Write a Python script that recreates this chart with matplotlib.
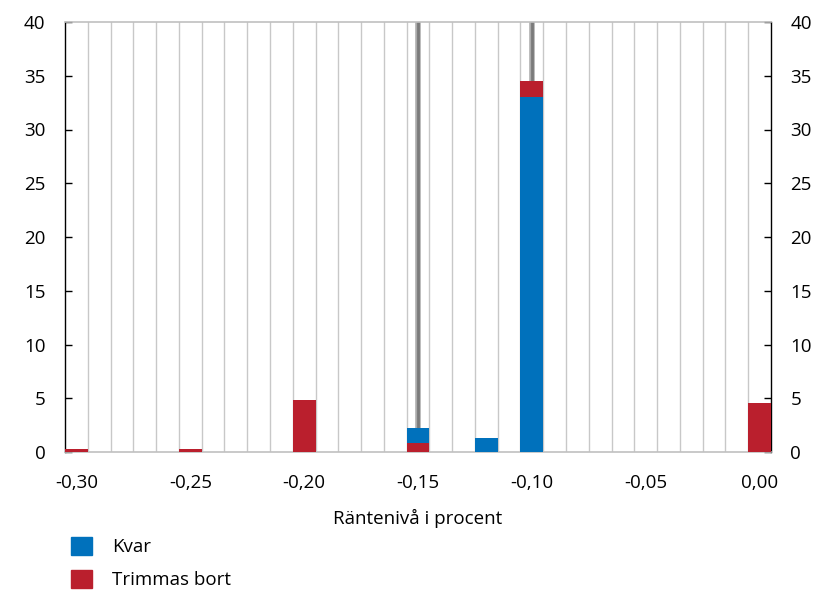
import matplotlib.pyplot as plt
from matplotlib.patches import Patch
import numpy as np

plt.rcParams["font.family"] = ["Open Sans", "DejaVu Sans"]

# interest-rate levels (percent), one bin per hundredth
levels = [round(-0.30 + 0.01 * i, 2) for i in range(31)]
tick_levels = [-0.30, -0.25, -0.20, -0.15, -0.10, -0.05, 0.00]

# trimmed away from below
trim_low_levels = [-0.30, -0.25, -0.20, -0.15]
trim_low = [0.3, 0.25, 4.8, 0.8]
# remaining
kvar_levels = [-0.15, -0.12, -0.10]
kvar = [1.4, 1.3, 33.0]
# trimmed away from above
trim_high_levels = [-0.10, 0.00]
trim_high = [1.5, 4.6]

# vertical markers
marker_levels = [-0.15, -0.10]

blue = "#0071BC"
red = "#BA1F2D"
width = 0.01
fs = 13.5

fig = plt.figure(figsize=(8.15, 5.93), dpi=100)
ax = fig.add_axes([65 / 815, 1 - 452 / 593, 706 / 815, 430 / 593])

# stacking bottoms
base = {lv: 0.0 for lv in levels}
for lv, v in zip(trim_low_levels, trim_low):
    base[lv] += v
kvar_bottom = [base[lv] for lv in kvar_levels]
for lv, v in zip(kvar_levels, kvar):
    base[lv] += v
high_bottom = [base[lv] for lv in trim_high_levels]

ax.bar(trim_low_levels, trim_low, width=width, color=red, zorder=3)
ax.bar(kvar_levels, kvar, bottom=kvar_bottom, width=width, color=blue, zorder=3)
ax.bar(trim_high_levels, trim_high, bottom=high_bottom, width=width,
       color=red, zorder=3)

for lv in marker_levels:
    ax.axvline(lv, color="#ababab", lw=4.0, zorder=2)
    ax.axvline(lv, color="#7a7a7a", lw=2.0, zorder=2)

lo, hi = levels[0] - width / 2, levels[-1] + width / 2
ax.set_xlim(lo, hi)
ax.set_ylim(0, 40)

edges = np.linspace(lo, hi, len(levels) + 1)
for e in edges[1:-1]:
    ax.axvline(e, color="#c8c8c8", lw=1.0, zorder=1)

ax.set_xticks(tick_levels)
ax.set_xticklabels([f"{v:.2f}".replace(".", ",") for v in tick_levels])
ax.tick_params(axis="x", length=0, pad=16, labelsize=fs)

yt = np.arange(0, 41, 5)
ax.set_yticks(yt)
ax.tick_params(axis="y", direction="in", length=5, width=1, labelsize=fs,
               pad=14, right=True, labelright=True, color="black")

for s in ["left", "right"]:
    ax.spines[s].set_color("black")
    ax.spines[s].set_linewidth(1.0)
for s in ["top", "bottom"]:
    ax.spines[s].set_color("#c0c0c0")
    ax.spines[s].set_linewidth(1.2)

ax.set_xlabel("Räntenivå i procent", fontsize=fs, labelpad=12)

handles = [Patch(color=blue, label="Kvar"), Patch(color=red, label="Trimmas bort")]
fig.legend(handles=handles, loc="upper left", bbox_to_anchor=(71 / 815, 1 - 537 / 593),
           frameon=False, fontsize=fs, handlelength=1.1, handleheight=1.1,
           handletextpad=1.1, labelspacing=0.72, borderpad=0, borderaxespad=0)

fig.savefig("out.png", dpi=100)
